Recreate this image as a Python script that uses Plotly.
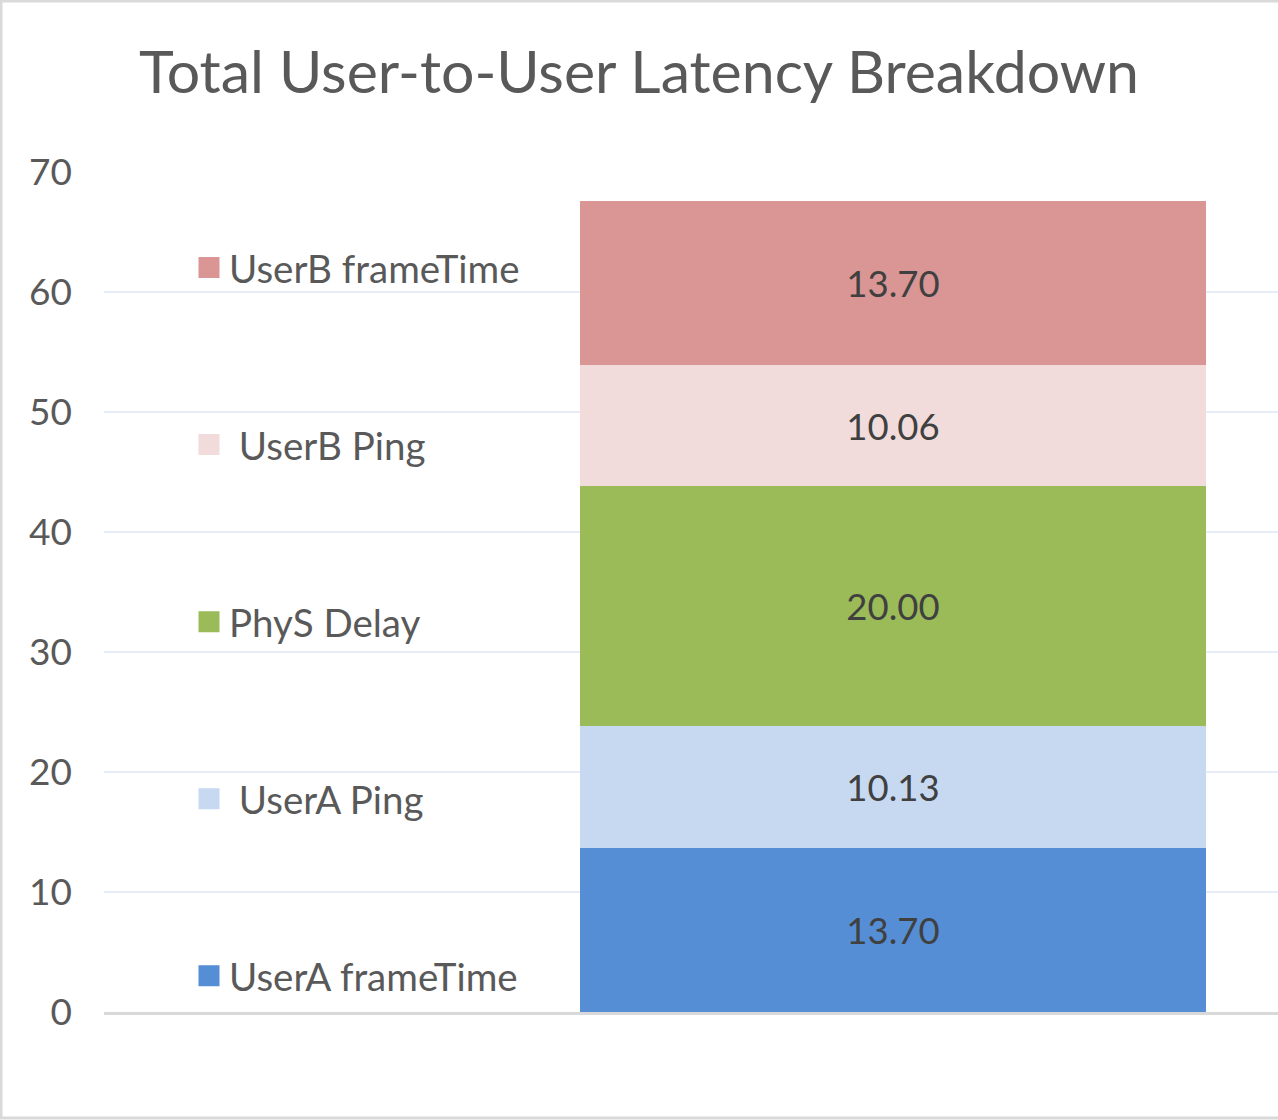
import plotly.graph_objects as go

# ---- data ----
series_names = ["UserA frameTime", "UserA Ping", "PhyS Delay", "UserB Ping", "UserB frameTime"]
legend_labels = ["UserA frameTime", "\u00a0UserA Ping", "PhyS Delay", "\u00a0UserB Ping", "UserB frameTime"]
series_values = [13.70, 10.13, 20.00, 10.06, 13.70]
series_colors = ["#558ed5", "#c6d9f1", "#9bbb59", "#f2dcdb", "#d99694"]
category = [0]
y_ticks = [0, 10, 20, 30, 40, 50, 60, 70]

W, H = 1278, 1120
ML, MR, MT, MB = 104, 0, 172, 108
FONT = "Lato"

fig = go.Figure()
for name, val, col in zip(series_names, series_values, series_colors):
    fig.add_trace(go.Bar(
        x=category, y=[val], name=name, width=1,
        marker=dict(color=col, line=dict(width=0)),
        texttemplate="%{y:.2f}", textposition="inside", insidetextanchor="middle",
        textfont=dict(family=FONT, size=36.5, color="#404040"),
        showlegend=False, hoverinfo="skip",
    ))

# legend entries (top to bottom)
for i, (lab, col) in enumerate(reversed(list(zip(legend_labels, series_colors)))):
    fig.add_trace(go.Scatter(
        x=[None], y=[None], mode="markers", name=lab, legendgroup=f"g{i}",
        marker=dict(symbol="square", size=16, color=col, line=dict(color=col, width=5)),
        showlegend=True,
    ))

pw = W - ML - MR
ph = H - MT - MB
fig.update_layout(
    width=W, height=H,
    margin=dict(l=ML, r=MR, t=MT, b=MB, pad=0),
    paper_bgcolor="white", plot_bgcolor="white",
    barmode="stack",
    title=dict(text="Total User-to-User Latency Breakdown", x=0.5, xref="container",
               y=1 - 72 / H, yref="container", yanchor="middle", xanchor="center",
               font=dict(family=FONT, size=59, color="#595959")),
    xaxis=dict(range=[-789 / 626, 385 / 626], showticklabels=False, showgrid=False,
               zeroline=False, showline=True, linecolor="#d9d9d9", linewidth=3, fixedrange=True),
    yaxis=dict(range=[0, 70], tickvals=y_ticks, showgrid=True, gridcolor="#e6edf6", gridwidth=2,
               zeroline=False, showline=False, ticklabelstandoff=31,
               tickfont=dict(family=FONT, size=37, color="#595959")),
    legend=dict(x=(189 - ML) / pw, xanchor="left", y=(H - MB - 236) / ph, yanchor="top",
                traceorder="grouped", tracegroupgap=124, bgcolor="rgba(0,0,0,0)",
                font=dict(family=FONT, size=38.5, color="#595959"), itemclick=False),
)
# figure border (top, left, bottom)
x0 = (1 - ML) / pw
x1 = (W + 5 - ML) / pw
yt = (H - MB - 1) / ph
yb = (H - MB - (H - 2)) / ph
fig.layout.shapes = [dict(type="path", xref="paper", yref="paper",
                          path=f"M {x1} {yt} L {x0} {yt} L {x0} {yb} L {x1} {yb}",
                          line=dict(color="#d9d9d9", width=3), layer="above")]

fig.write_html("out.html", config={"displayModeBar": False},
               post_script="document.body.style.margin='0';document.body.style.overflow='hidden';")
